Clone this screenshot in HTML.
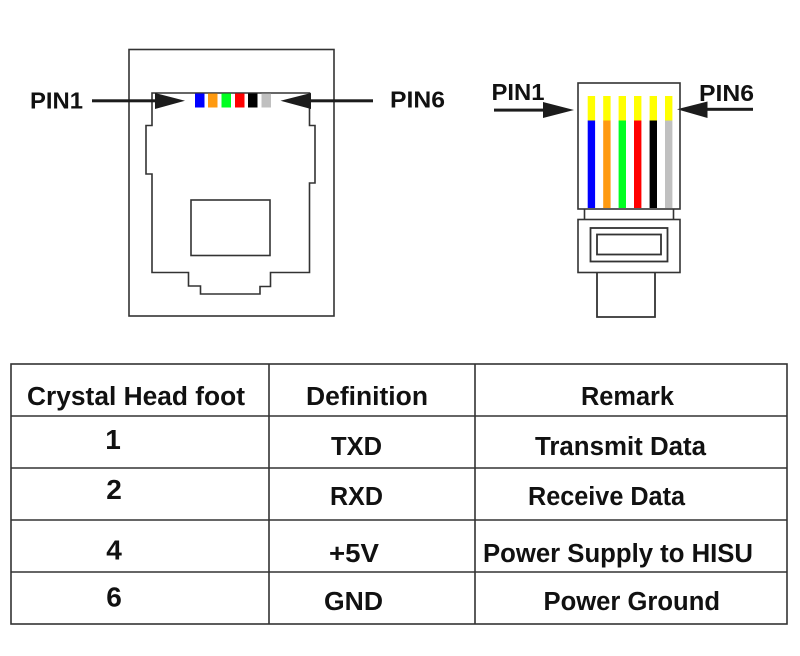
<!DOCTYPE html>
<html>
<head>
<meta charset="utf-8">
<style>
html,body{margin:0;padding:0;background:#fff;width:800px;height:656px;overflow:hidden}
svg{display:block;filter:blur(.35px)}
text{font-family:"Liberation Sans",sans-serif;font-weight:bold;fill:#111;font-size:25.5px}
.d{font-size:28px;text-anchor:middle}
.p{font-size:23.5px}
</style>
</head>
<body>
<svg width="800" height="656" viewBox="0 0 800 656" xmlns="http://www.w3.org/2000/svg">
<rect width="800" height="656" fill="#fff"/>

<!-- Jack -->
<g fill="none" stroke="#333" stroke-width="1.6">
<rect x="129" y="49.5" width="205" height="266.5"/>
<path d="M152 93H309.5V125.5H315V183H309.5V272.5H270.5V286.5H260V294H200.5V286H188.5V272.5H152V174H146V125.5H152Z"/>
<rect x="191" y="200" width="79" height="55.5"/>
</g>
<rect x="195" y="93.5" width="9.5" height="14" fill="#0000ff"/>
<rect x="208" y="93.5" width="9.5" height="14" fill="#ff9a10"/>
<rect x="221.5" y="93.5" width="9.5" height="14" fill="#00ff21"/>
<rect x="235" y="93.5" width="9.5" height="14" fill="#ff0000"/>
<rect x="248" y="93.5" width="9.5" height="14" fill="#000"/>
<rect x="261.5" y="93.5" width="9.5" height="14" fill="#c0c0c0"/>

<!-- Arrows -->
<g fill="#1c1c1c">
<rect x="92" y="99.3" width="66" height="3"/>
<path d="M155 93L185 100.8L155 109Z"/>
<rect x="308" y="99.3" width="65" height="3"/>
<path d="M311 93L280.5 100.8L311 109Z"/>
<rect x="494" y="108.6" width="52" height="3"/>
<path d="M543 102L574 110L543 118Z"/>
<rect x="704" y="107.8" width="49" height="3"/>
<path d="M707.5 101.5L677 109.3L707.5 118Z"/>
</g>

<!-- Plug -->
<g fill="none" stroke="#333" stroke-width="1.6">
<rect x="578" y="83" width="102" height="126"/>
<path d="M584.5 209V219.5M673.5 209V219.5"/>
<rect x="578" y="219.5" width="102" height="53"/>
<rect x="590.5" y="228" width="77" height="33.5" stroke-width="1.8"/>
<rect x="597" y="234.5" width="64" height="20" stroke-width="1.8"/>
<path d="M597 272.5V317H655V272.5" stroke-width="1.8"/>
</g>
<g fill="#ffff00">
<rect x="587.7" y="96" width="7.4" height="24.5"/>
<rect x="603.2" y="96" width="7.4" height="24.5"/>
<rect x="618.6" y="96" width="7.4" height="24.5"/>
<rect x="634" y="96" width="7.4" height="24.5"/>
<rect x="649.6" y="96" width="7.4" height="24.5"/>
<rect x="665" y="96" width="7.4" height="24.5"/>
</g>
<rect x="587.7" y="120.5" width="7.4" height="87.5" fill="#0000ff"/>
<rect x="603.2" y="120.5" width="7.4" height="87.5" fill="#ff9a10"/>
<rect x="618.6" y="120.5" width="7.4" height="87.5" fill="#00ff21"/>
<rect x="634" y="120.5" width="7.4" height="87.5" fill="#ff0000"/>
<rect x="649.6" y="120.5" width="7.4" height="87.5" fill="#000"/>
<rect x="665" y="120.5" width="7.4" height="87.5" fill="#c0c0c0"/>

<!-- PIN labels -->
<text class="p" x="30" y="108.5" textLength="53" lengthAdjust="spacingAndGlyphs">PIN1</text>
<text class="p" x="390" y="107.5" textLength="55" lengthAdjust="spacingAndGlyphs">PIN6</text>
<text class="p" x="491.5" y="100" textLength="53" lengthAdjust="spacingAndGlyphs">PIN1</text>
<text class="p" x="699" y="101" textLength="55" lengthAdjust="spacingAndGlyphs">PIN6</text>

<!-- Table -->
<g fill="none" stroke="#333" stroke-width="1.6">
<rect x="11" y="364" width="776" height="260"/>
<path d="M269 364V624M475 364V624M11 416H787M11 468H787M11 520H787M11 572H787"/>
</g>

<text x="27" y="405" textLength="218" lengthAdjust="spacingAndGlyphs">Crystal Head foot</text>
<text x="306" y="405" textLength="122" lengthAdjust="spacingAndGlyphs">Definition</text>
<text x="581" y="405" textLength="93" lengthAdjust="spacingAndGlyphs">Remark</text>

<text class="d" x="113" y="449">1</text>
<text x="331" y="455" textLength="51" lengthAdjust="spacingAndGlyphs">TXD</text>
<text x="535" y="455" textLength="171" lengthAdjust="spacingAndGlyphs">Transmit Data</text>

<text class="d" x="114" y="499">2</text>
<text x="330" y="505" textLength="53" lengthAdjust="spacingAndGlyphs">RXD</text>
<text x="528" y="505" textLength="157" lengthAdjust="spacingAndGlyphs">Receive Data</text>

<text class="d" x="114" y="559.5">4</text>
<text x="329" y="562" textLength="50" lengthAdjust="spacingAndGlyphs">+5V</text>
<text x="483" y="562" textLength="270" lengthAdjust="spacingAndGlyphs">Power Supply to HISU</text>

<text class="d" x="114" y="606.5">6</text>
<text x="324" y="610" textLength="59" lengthAdjust="spacingAndGlyphs">GND</text>
<text x="543.5" y="610" textLength="176.5" lengthAdjust="spacingAndGlyphs">Power Ground</text>
</svg>
</body>
</html>
